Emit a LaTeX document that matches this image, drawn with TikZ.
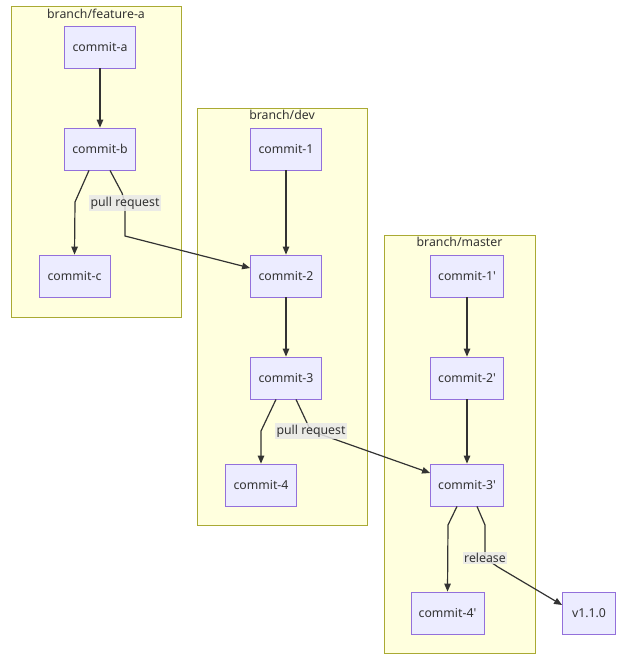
\documentclass[tikz,border=0pt]{standalone}
\usepackage{fontspec}
\setmainfont{Noto Sans}[Ligatures=TeXOff]
\usetikzlibrary{arrows.meta}
\definecolor{clfill}{HTML}{FFFFDE}
\definecolor{cldraw}{HTML}{AAAA33}
\definecolor{ndfill}{HTML}{ECECFF}
\definecolor{nddraw}{HTML}{9370DB}
\definecolor{edg}{HTML}{333333}
\definecolor{lblbg}{HTML}{E8E8E8}
\begin{document}
\begin{tikzpicture}[x=1pt,y=-1pt,
  cluster/.style={draw=cldraw,fill=clfill,line width=0.8pt},
  title/.style={font=\fontsize{12.3}{14}\selectfont,text=edg,inner sep=0pt},
  commit/.style={draw=nddraw,fill=ndfill,line width=0.8pt,minimum width=71pt,minimum height=42pt,inner sep=0pt,font=\fontsize{12.3}{14}\selectfont,text=edg},
  edge/.style={draw=edg,line width=1.2pt,-{Triangle[length=8pt,width=6.5pt]}},
  lbl/.style={fill=lblbg,fill opacity=0.85,text opacity=1,inner sep=1.5pt,font=\fontsize{12.3}{14}\selectfont,text=edg}]
\useasboundingbox[fill=white] (0,0) rectangle (627,659);

% clusters
\draw[cluster] (11,6) rectangle (181,317);
\draw[cluster] (197,108) rectangle (367,525);
\draw[cluster] (384,235) rectangle (535,653);
\node[title] (tA) at (96,14) {branch/feature-a};
\node[title] (tD) at (282,115) {branch/dev};
\node[title] (tM) at (459.5,242) {branch/master};

% commits
\node[commit] (a) at (100,47) {commit-a};
\node[commit] (b) at (100,149) {commit-b};
\node[commit] (c) at (74.5,276) {commit-c};
\node[commit] (n1) at (286,149) {commit-1};
\node[commit] (n2) at (286,276) {commit-2};
\node[commit] (n3) at (286,378) {commit-3};
\node[commit] (n4) at (261,485) {commit-4};
\node[commit,minimum width=73pt] (m1) at (467,276) {commit-1'};
\node[commit,minimum width=73pt] (m2) at (467,378) {commit-2'};
\node[commit,minimum width=73pt] (m3) at (467,485) {commit-3'};
\node[commit,minimum width=73pt] (m4) at (447.5,613) {commit-4'};
\node[commit,minimum width=53pt] (v) at (589,613) {v1.1.0};

% edges
\draw[edge] (a) -- (b);
\draw[edge] ([xshift=-11pt]b.south) -- (75,202) -- (c.north);
\draw[edge] ([xshift=10pt]b.south) -- (122,193) -- (125,203) -- (125,236) -- ([yshift=8pt]n2.west);
\draw[edge] (n1) -- (n2);
\draw[edge] (n2) -- (n3);
\draw[edge] ([xshift=-10pt]n3.south) -- (261,431) -- (n4.north);
\draw[edge] ([xshift=10pt]n3.south) -- (308,425) -- (311,431) -- (331,438) -- ([yshift=12pt]m3.west);
\draw[edge] (m1) -- (m2);
\draw[edge] (m2) -- (m3);
\draw[edge] ([xshift=-10pt]m3.south) -- (448,525) -- (m4.north);
\draw[edge] ([xshift=10pt]m3.south) -- (485,525) -- (485,558) -- (498,567) -- ([yshift=8pt]v.west);

% edge labels
\node[lbl] (l1) at (125,203) {pull request};
\node[lbl] (l2) at (311,431) {pull request};
\node[lbl] (l3) at (485,558) {release};
\end{tikzpicture}
\end{document}
